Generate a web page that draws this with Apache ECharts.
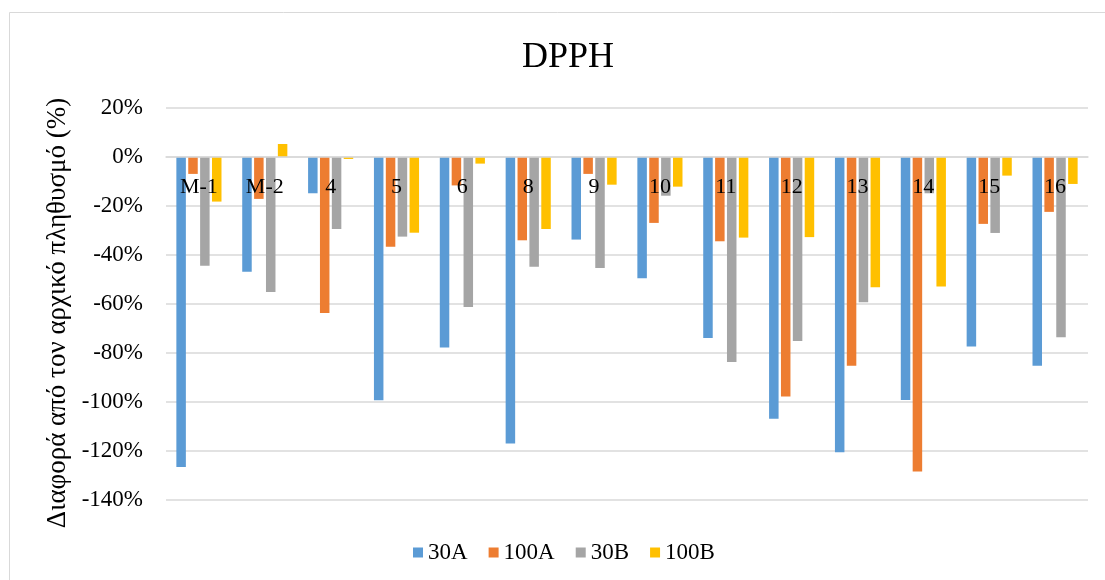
<!DOCTYPE html>
<html>
<head>
<meta charset="utf-8">
<script src="https://cdn.jsdelivr.net/npm/echarts@6/dist/echarts.min.js"></script>
<style>
  html, body { margin: 0; padding: 0; background: #fff; }
  #chart { width: 1105px; height: 580px; }
</style>
</head>
<body>
<div id="chart"></div>
<script>
// Samples on the category axis
const categories = ['M-1', 'M-2', '4', '5', '6', '8', '9', '10', '11', '12', '13', '14', '15', '16'];

// Change from the initial population, in percent
const s30A  = [-126.5, -46.8, -14.8, -99.3, -77.8, -116.9, -33.7, -49.5, -73.9, -106.8, -120.5, -99.2, -77.3, -85.2];
const s100A = [-6.9, -17.1, -63.7, -36.6, -11.6, -34.0, -6.9, -26.9, -34.4, -97.8, -85.2, -128.4, -27.3, -22.4];
const s30B  = [-44.4, -55.1, -29.4, -32.5, -61.2, -44.8, -45.3, -15.8, -83.7, -75.1, -59.3, -14.8, -31.0, -73.6];
const s100B = [-18.2, 5.3, -0.8, -30.9, -2.7, -29.4, -11.3, -12.1, -32.9, -32.7, -53.2, -52.9, -7.6, -11.0];

const seriesNames = ['30A', '100A', '30B', '100B'];
const seriesColors = ['#5B9BD5', '#ED7D31', '#A5A5A5', '#FFC000'];
const seriesData = [s30A, s100A, s30B, s100B];

// Value axis range
const Y_MIN = -140, Y_MAX = 20, Y_STEP = 20;

const FONT = '"Liberation Serif", "Times New Roman", serif';

const GRID = { left: 166, right: 17, top: 108, bottom: 80 };
const CHART_H = 580;
// distance from the bottom of the plot up to the zero line, so category labels sit under 0%
const plotH = CHART_H - GRID.top - GRID.bottom;
const zeroLift = plotH * (0 - Y_MIN) / (Y_MAX - Y_MIN);

const chart = echarts.init(document.getElementById('chart'), null, { renderer: 'canvas' });

chart.setOption({
  animation: false,
  backgroundColor: '#ffffff',
  title: {
    text: 'DPPH',
    left: 563,
    textAlign: 'center',
    top: 35,
    textStyle: { fontFamily: FONT, fontSize: 36, fontWeight: 'normal', color: '#000' }
  },
  legend: {
    left: 408,
    top: 536,
    itemWidth: 10,
    itemHeight: 10,
    itemGap: 21,
    icon: 'rect',
    data: seriesNames,
    textStyle: { fontFamily: FONT, fontSize: 23, color: '#000' }
  },
  grid: Object.assign({ containLabel: false }, GRID),
  xAxis: {
    type: 'category',
    data: categories,
    position: 'bottom',
    offset: -zeroLift,
    z: 10,
    axisLine: { show: true, onZero: false, lineStyle: { color: '#d9d9d9', width: 1.5 } },
    axisTick: { show: false },
    axisLabel: { fontFamily: FONT, fontSize: 22, color: '#000', margin: 19 },
    splitLine: { show: false }
  },
  yAxis: {
    type: 'value',
    min: Y_MIN,
    max: Y_MAX,
    interval: Y_STEP,
    axisLine: { show: false },
    axisTick: { show: false },
    axisLabel: {
      fontFamily: FONT, fontSize: 23, color: '#000', margin: 23,
      formatter: v => v + '%'
    },
    splitLine: { lineStyle: { color: '#d9d9d9', width: 1.5 } }
  },
  graphic: [
    {
      type: 'rect',
      shape: { x: 9.5, y: 12.5, width: 1200, height: 700 },
      style: { fill: 'none', stroke: '#d9d9d9', lineWidth: 1 },
      silent: true
    },
    {
      type: 'text',
      x: 58,
      y: 313,
      rotation: Math.PI / 2,
      style: {
        text: 'Διαφορά από τον αρχικό πληθυσμό (%)',
        fontFamily: FONT,
        fontSize: 27,
        fill: '#000',
        textAlign: 'center',
        textVerticalAlign: 'middle'
      },
      silent: true
    }
  ],
  series: seriesNames.map((name, i) => ({
    name,
    type: 'bar',
    data: seriesData[i],
    barWidth: 9.5,
    barGap: '25%',
    z: 2,
    itemStyle: { color: seriesColors[i] }
  }))
});
</script>
</body>
</html>
